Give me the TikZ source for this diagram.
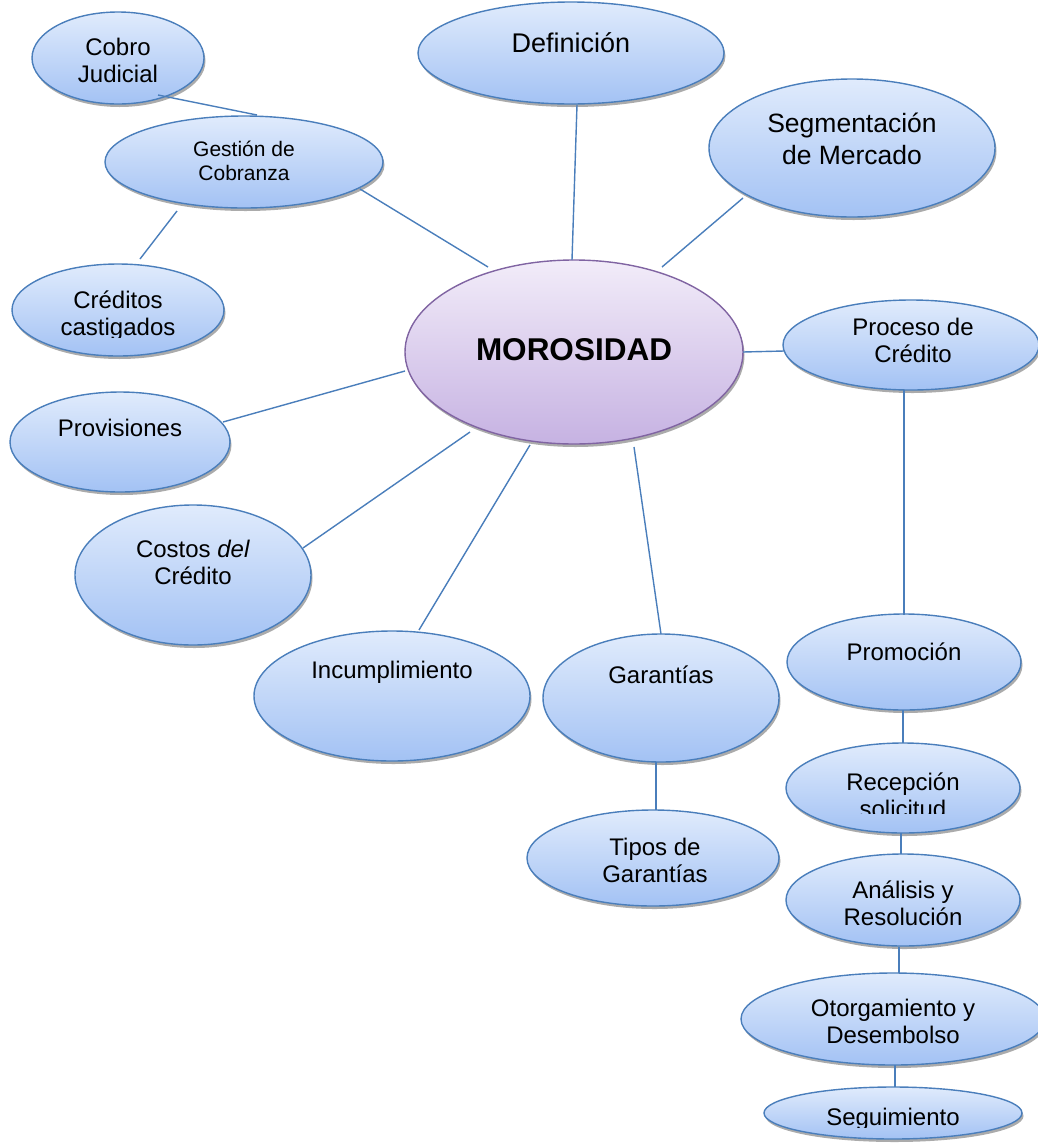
\documentclass[tikz,border=0pt]{standalone}
\usepackage{fontspec}
\setmainfont{Liberation Sans}
\usetikzlibrary{shapes.geometric,shadows,calc}
\definecolor{bluetop}{RGB}{224,235,252}
\definecolor{bluebot}{RGB}{163,194,244}
\definecolor{blueline}{RGB}{74,126,187}
\definecolor{purtop}{RGB}{242,236,249}
\definecolor{purbot}{RGB}{198,178,226}
\definecolor{purline}{RGB}{128,100,162}
\definecolor{shadowgray}{RGB}{150,150,150}
\tikzset{
  bubble/.style={ellipse, draw=blueline, line width=1.4pt, top color=bluetop, bottom color=bluebot,
    inner sep=0pt, outer sep=0pt,
    drop shadow={shadow xshift=1.5pt, shadow yshift=-3pt, fill=shadowgray, opacity=0.8}},
  core/.style={bubble, draw=purline, top color=purtop, bottom color=purbot},
  lbl/.style={font=\fontsize{24}{27}\selectfont, align=center, inner sep=0pt, text=black},
  link/.style={draw=blueline, line width=1.4pt},
}
\begin{document}
\begin{tikzpicture}[x=1pt,y=-1pt]
\useasboundingbox (0,0) rectangle (1038,1144);
% ellipses
\node[bubble, minimum width=172pt, minimum height=92pt]  (cobro)   at (118,58)   {};
\node[bubble, minimum width=306pt, minimum height=102pt] (defin)   at (571,53)   {};
\node[bubble, minimum width=278pt, minimum height=92pt]  (gestion) at (244,162)  {};
\node[bubble, minimum width=286pt, minimum height=138pt] (segm)    at (852,148)  {};
\node[bubble, minimum width=212pt, minimum height=92pt]  (cred)    at (118,310)  {};
\node[core,   minimum width=338pt, minimum height=184pt] (moro)    at (574,352)  {};
\node[bubble, minimum width=256pt, minimum height=90pt]  (proc)    at (911,345)  {};
\node[bubble, minimum width=220pt, minimum height=100pt] (prov)    at (120,442)  {};
\node[bubble, minimum width=236pt, minimum height=140pt] (costos)  at (193,575)  {};
\node[bubble, minimum width=276pt, minimum height=130pt] (incum)   at (392,696)  {};
\node[bubble, minimum width=236pt, minimum height=128pt] (garan)   at (661,698)  {};
\node[bubble, minimum width=234pt, minimum height=96pt]  (promo)   at (904,662)  {};
\node[bubble, minimum width=234pt, minimum height=90pt]  (recep)   at (903,788)  {};
\node[bubble, minimum width=252pt, minimum height=96pt]  (tipos)   at (653,858)  {};
\node[bubble, minimum width=234pt, minimum height=92pt]  (anal)    at (903,900)  {};
\node[bubble, minimum width=304pt, minimum height=92pt]  (otorg)   at (893,1019) {};
\node[bubble, minimum width=258pt, minimum height=52pt]  (segui)   at (893,1113) {};
% connectors
\draw[link] ($(cobro)+(40,37)$) -- ($(gestion)+(13,-47)$);
\draw[link] ($(gestion)+(-67,49)$) -- ($(cred)+(22,-51)$);
\draw[link] ($(gestion)+(116,27)$) -- ($(moro)+(-86,-85)$);
\draw[link] ($(defin)+(6,52)$) -- ($(moro)+(-2,-92)$);
\draw[link] ($(segm)+(-109,50)$) -- ($(moro)+(88,-85)$);
\draw[link] ($(moro)+(169,0)$) -- ($(proc)+(-127,6)$);
\draw[link] ($(prov)+(103,-20)$) -- ($(moro)+(-169,19)$);
\draw[link] ($(costos)+(110,-27)$) -- ($(moro)+(-104,80)$);
\draw[link] ($(incum)+(27,-66)$) -- ($(moro)+(-44,93)$);
\draw[link] ($(garan)+(0,-64)$) -- ($(moro)+(60,95)$);
\draw[link] ($(proc)+(-7,45)$) -- ($(promo)+(0,-47)$);
\draw[link] ($(garan)+(-5,64)$) -- ($(tipos)+(3,-48)$);
\draw[link] ($(promo)+(-1,48)$) -- ($(recep)+(0,-45)$);
\draw[link] ($(recep)+(-2,45)$) -- ($(anal)+(-2,-46)$);
\draw[link] ($(anal)+(-4,47)$) -- ($(otorg)+(6,-46)$);
\draw[link] ($(otorg)+(2,46)$) -- ($(segui)+(2,-26)$);
% labels
\node[lbl] (cobroT) at (118,60) {Cobro\\Judicial};
\node[lbl, font=\fontsize{27}{31}\selectfont] (definT) at (571,43) {Definición};
\node[lbl, font=\fontsize{21}{24}\selectfont] (gestionT) at (244,161) {Gestión de\\Cobranza};
\node[lbl, font=\fontsize{26.5}{32}\selectfont] (segmT) at (852,139) {Segmentación\\de Mercado};
\begin{scope}
\clip (0,250) rectangle (300,337);
\node[lbl] (credT) at (118,316) {Créditos\\castigados};
\end{scope}
\node[lbl, font=\fontsize{31.5}{36}\selectfont\bfseries] (moroT) at (574,350) {MOROSIDAD};
\node[lbl] (procT) at (913,340) {Proceso de\\Crédito};
\node[lbl] (provT) at (120,428) {Provisiones};
\node[lbl] (costosT) at (193,562) {Costos \textit{del}\\Crédito};
\node[lbl] (incumT) at (392,672) {Incumplimiento};
\node[lbl] (garanT) at (661,675) {Garantías};
\node[lbl] (tiposT) at (655,860) {Tipos de\\Garantías};
\node[lbl] (promoT) at (904,652) {Promoción};
\begin{scope}
\clip (780,740) rectangle (1030,813);
\node[lbl] (recepT) at (903,795) {Recepción\\solicitud};
\end{scope}
\node[lbl] (analT) at (903,903) {Análisis y\\Resolución};
\node[lbl] (otorgT) at (893,1021) {Otorgamiento y\\Desembolso};
\begin{scope}
\clip (760,1090) rectangle (1030,1127);
\node[lbl] (seguiT) at (893,1119) {Seguimiento};
\end{scope}
\end{tikzpicture}
\end{document}
